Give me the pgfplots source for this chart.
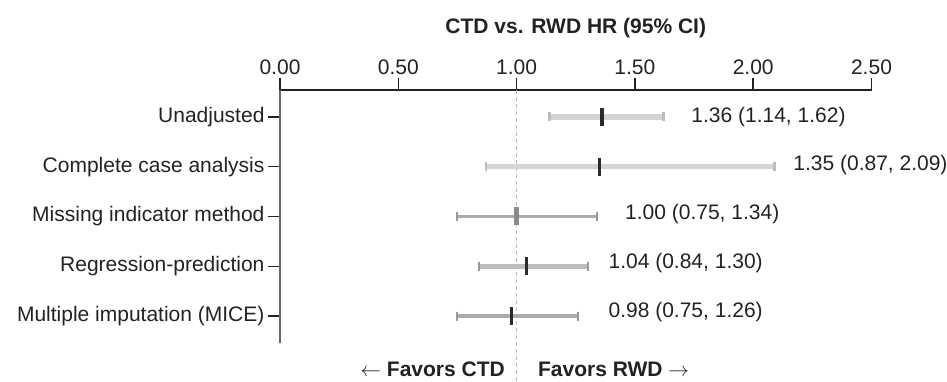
\documentclass[border=0pt]{standalone}
\usepackage{fontspec}
\setmainfont{Liberation Sans}
\usepackage{pgfplots}
\pgfplotsset{compat=1.18}
\definecolor{txt}{HTML}{222222}
\definecolor{barA}{HTML}{D4D4D4}
\definecolor{capA}{HTML}{BDBDBD}
\definecolor{barB}{HTML}{ABABAB}
\definecolor{capB}{HTML}{999999}
\definecolor{barC}{HTML}{BDBDBD}
\definecolor{ptDark}{HTML}{2A2A2A}
\definecolor{ptGray}{HTML}{8A8A8A}
\definecolor{refl}{HTML}{BBBBBB}
\newcommand\fs{\fontsize{21}{25}\selectfont}
\begin{document}
\begin{tikzpicture}
\useasboundingbox (-280pt,-39pt) rectangle (667pt,343pt);
\begin{axis}[
  scale only axis, width=591.5pt, height=253pt,
  xmin=0, xmax=2.5, ymin=0.46, ymax=5.54,
  axis x line*=top, axis y line*=left,
  x axis line style={draw=txt, line width=1.2pt, -},
  y axis line style={draw=black!60, line width=1.5pt, -},
  xtick={0,0.5,1,1.5,2,2.5},
  ytick={1,2,3,4,5},
  yticklabels={Multiple imputation (MICE), Regression-prediction, Missing indicator method, Complete case analysis, Unadjusted},
  tick align=outside, major tick length=12pt,
  tick style={draw=txt, line width=1.5pt},
  xticklabel style={font=\fs, text=txt, /pgf/number format/.cd, fixed, fixed zerofill, precision=2, assume math mode=true},
  yticklabel style={font=\fs, text=txt},
  clip=false,
]
% reference line at HR = 1
\draw[refl, line width=1.3pt, dash pattern=on 4pt off 3pt] (axis cs:1,5.54) -- (axis cs:1,-0.32);

% Unadjusted: 1.36 (1.14, 1.62)
\addplot[draw=barA, line width=5.5pt] coordinates {(1.14,5) (1.62,5)};
\addplot[only marks, mark=|, mark size=4.5pt, mark options={draw=capA, line width=2.5pt}] coordinates {(1.14,5) (1.62,5)};
\addplot[only marks, mark=|, mark size=9pt, mark options={draw=ptDark, line width=3.5pt}] coordinates {(1.36,5)};

% Complete case analysis: 1.35 (0.87, 2.09)
\addplot[draw=barA, line width=4.5pt] coordinates {(0.87,4) (2.09,4)};
\addplot[only marks, mark=|, mark size=4.5pt, mark options={draw=capA, line width=2.5pt}] coordinates {(0.87,4) (2.09,4)};
\addplot[only marks, mark=|, mark size=9pt, mark options={draw=ptDark, line width=3.5pt}] coordinates {(1.35,4)};

% Missing indicator method: 1.00 (0.75, 1.34)
\addplot[draw=barB, line width=3.5pt] coordinates {(0.75,3) (1.34,3)};
\addplot[only marks, mark=|, mark size=4.5pt, mark options={draw=capB, line width=2pt}] coordinates {(0.75,3) (1.34,3)};
\addplot[only marks, mark=|, mark size=9pt, mark options={draw=ptGray, line width=5pt}] coordinates {(1.00,3)};

% Regression-prediction: 1.04 (0.84, 1.30)
\addplot[draw=barC, line width=4.5pt] coordinates {(0.84,2) (1.30,2)};
\addplot[only marks, mark=|, mark size=4.5pt, mark options={draw=capB, line width=2pt}] coordinates {(0.84,2) (1.30,2)};
\addplot[only marks, mark=|, mark size=9pt, mark options={draw=ptDark, line width=3pt}] coordinates {(1.04,2)};

% Multiple imputation (MICE): 0.98 (0.75, 1.26)
\addplot[draw=barB, line width=3.5pt] coordinates {(0.75,1) (1.26,1)};
\addplot[only marks, mark=|, mark size=4.5pt, mark options={draw=capB, line width=2pt}] coordinates {(0.75,1) (1.26,1)};
\addplot[only marks, mark=|, mark size=9pt, mark options={draw=ptDark, line width=3pt}] coordinates {(0.98,1)};

% estimate labels
\node[anchor=west, font=\fs, text=txt] at (axis cs:1.724,5) {1.36 (1.14, 1.62)};
\node[anchor=west, font=\fs, text=txt] at (axis cs:2.155,4.04) {1.35 (0.87, 2.09)};
\node[anchor=west, font=\fs, text=txt] at (axis cs:1.444,3.04) {1.00 (0.75, 1.34)};
\node[anchor=west, font=\fs, text=txt] at (axis cs:1.374,2.06) {1.04 (0.84, 1.30)};
\node[anchor=west, font=\fs, text=txt] at (axis cs:1.374,1.08) {0.98 (0.75, 1.26)};

% title and direction labels
\node[font=\fs\bfseries, text=txt] at (rel axis cs:0.5,1) [yshift=62pt] {CTD vs. RWD HR (95\% CI)};
\node[anchor=east, font=\fs\bfseries, text=txt, inner sep=0pt] at (axis cs:0.951,-0.07) {$\leftarrow$ Favors CTD};
\node[anchor=west, font=\fs\bfseries, text=txt, inner sep=0pt] at (axis cs:1.090,-0.07) {Favors RWD $\rightarrow$};
\end{axis}
\end{tikzpicture}
\end{document}
